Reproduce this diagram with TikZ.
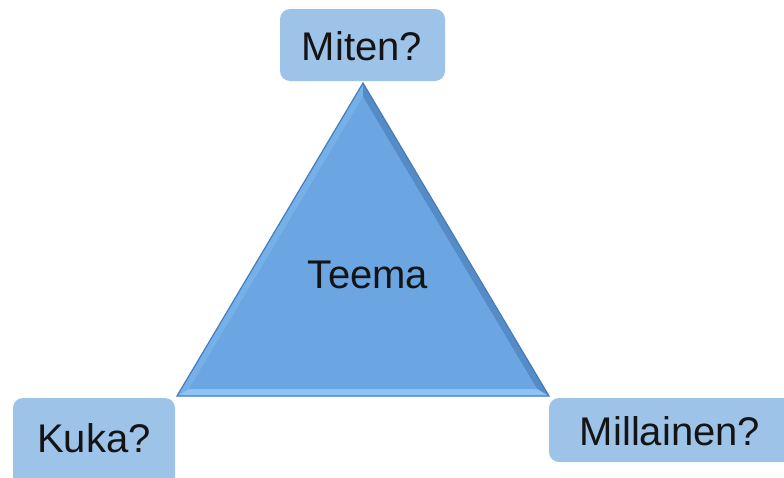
\documentclass[tikz,border=0pt]{standalone}
\usepackage{fontspec}
\setmainfont{Liberation Sans}
\definecolor{boxblue}{RGB}{158,195,232}
\definecolor{trifill}{RGB}{108,166,226}
\definecolor{triedge}{RGB}{70,125,185}
\definecolor{bevlight}{RGB}{140,196,245}
\definecolor{bevdark}{RGB}{85,140,200}
\definecolor{bevleft}{RGB}{118,176,232}
\definecolor{txt}{RGB}{20,20,20}
\begin{document}
\begin{tikzpicture}[x=1pt,y=-1pt,
  qbox/.style={fill=boxblue,rounded corners=10pt},
  qtext/.style={font=\fontsize{40}{44}\selectfont,text=txt,inner sep=0pt}]
\useasboundingbox (0,0) rectangle (784,477);
% boxes
\fill[qbox] (280,9) rectangle (445,81);
\fill[qbox] (13,398) rectangle (175,490);
\fill[qbox] (549,398) rectangle (800,462);
\node[qtext] (miten) at (362,46) {Miten?};
\node[qtext] (kuka) at (94,438) {Kuka?};
\node[qtext] (millainen) at (670,431) {Millainen?};
% triangle with bevel
\coordinate (A) at (363,83);
\coordinate (B) at (177,396);
\coordinate (C) at (549,396);
\coordinate (A2) at (363,97);
\coordinate (B2) at (189,389);
\coordinate (C2) at (537,389);
\fill[trifill] (A) -- (B) -- (C) -- cycle;
\fill[bevleft] (A) -- (B) -- (B2) -- (A2) -- cycle;
\fill[bevdark] (A) -- (C) -- (C2) -- (A2) -- cycle;
\fill[bevlight] (B) -- (C) -- (C2) -- (B2) -- cycle;
\fill[trifill] (A2) -- (B2) -- (C2) -- cycle;
\draw[triedge,line width=1.2pt,line join=miter] (A) -- (B) -- (C) -- cycle;
\node[qtext] (teema) at (368,275) {Teema};
\end{tikzpicture}
\end{document}
